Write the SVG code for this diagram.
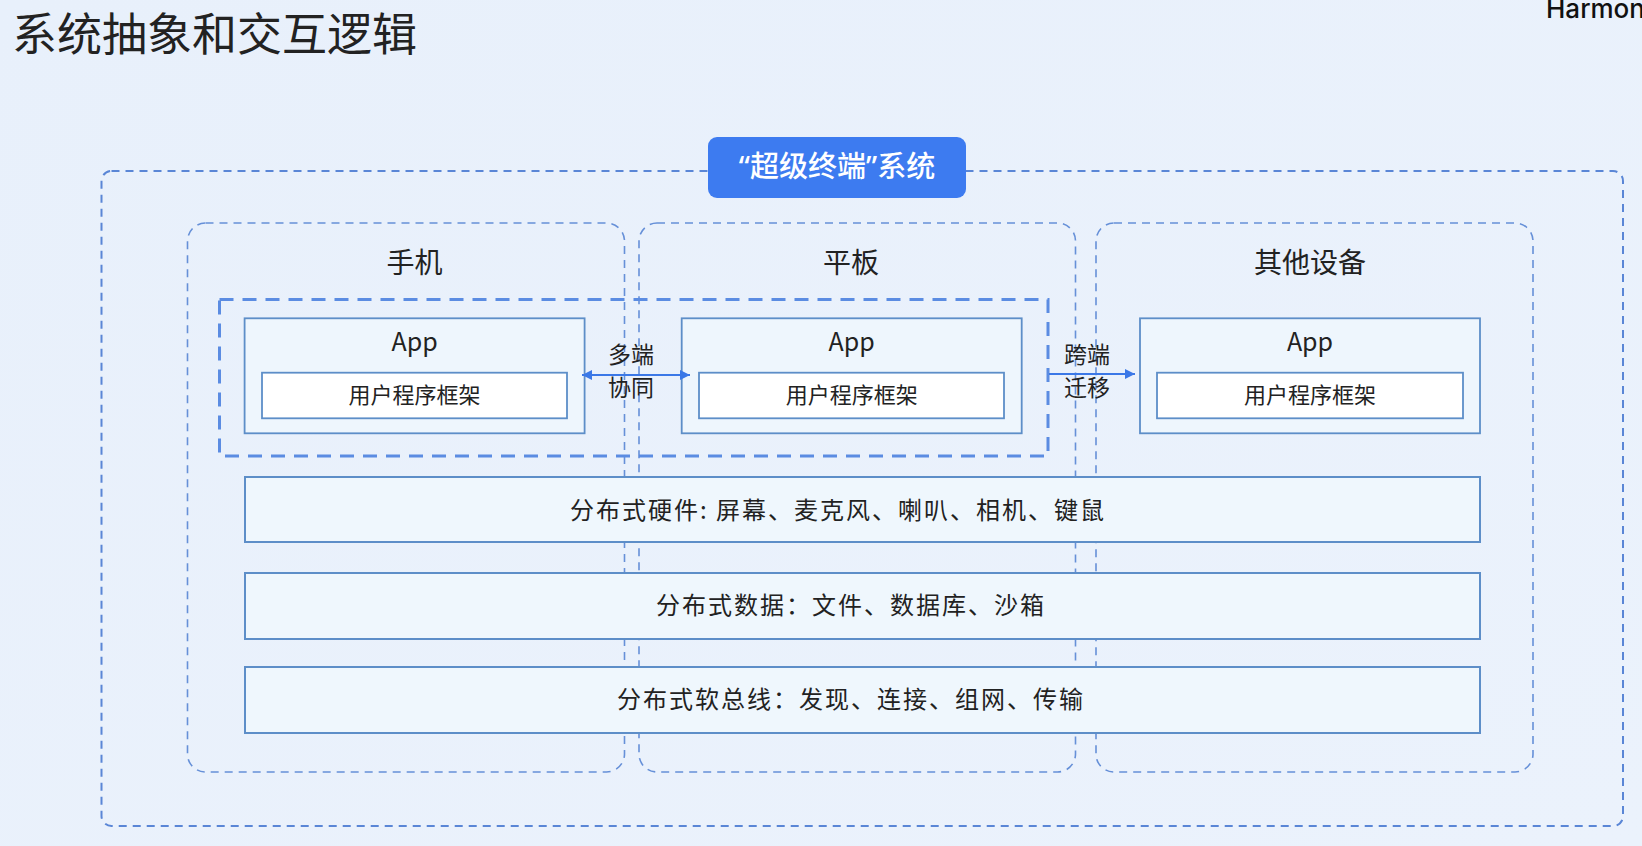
<svg xmlns="http://www.w3.org/2000/svg" width="1642" height="846" viewBox="0 0 1642 846">
<defs>
<linearGradient id="bg" x1="0" y1="0" x2="1" y2="1">
<stop offset="0" stop-color="#e8f0fb"/>
<stop offset="1" stop-color="#ebf2fc"/>
</linearGradient>
<marker id="ah" viewBox="0 0 10 10" refX="10" refY="5" markerWidth="10" markerHeight="10" markerUnits="userSpaceOnUse" orient="auto-start-reverse">
<path d="M0,0 L10,5 L0,10 z" fill="#3b78e7"/>
</marker>
<style>
.cjk{font-family:"Noto Sans CJK SC","Noto Sans",sans-serif;fill:#222}
.outer{fill:none;stroke:#5a86d6;stroke-width:2;stroke-dasharray:8 6}
.dev{fill:none;stroke:#6690d8;stroke-width:1.6;stroke-dasharray:8 6}
.grp{fill:none;stroke:#5b8ce2;stroke-width:3;stroke-dasharray:14 9}
.app{fill:#eef6fd;stroke:#5d8ec8;stroke-width:1.8}
.fw{fill:#ffffff;stroke:#5d8ec8;stroke-width:1.8}
.bar{fill:#eff7fd;stroke:#5d8ec8;stroke-width:2}
.conn{stroke:#3b78e7;stroke-width:2.2;fill:none}
.devlabel{font-size:28px;text-anchor:middle}
.applabel{font-size:25px;text-anchor:middle}
.fwlabel{font-size:22px;text-anchor:middle}
.barlabel{font-size:24px;text-anchor:middle;letter-spacing:2px}
.edge{font-size:23px;text-anchor:middle}
.q{font-family:"Noto Sans","Liberation Sans",sans-serif}
</style>
</defs>
<rect x="0" y="0" width="1642" height="846" fill="url(#bg)"/>

<g id="title">
<text class="cjk" x="12" y="51" font-size="45" fill="#1a1a1a">系统抽象和交互逻辑</text>
<text x="1546" y="18" font-family="Inter, 'Noto Sans', sans-serif" font-size="26" font-weight="500" fill="#111">Harmon</text>
</g>

<g id="outer-system">
<rect class="outer" x="101.5" y="171" width="1521.5" height="655" rx="10"/>
</g>

<g id="device-phone">
<rect class="dev" x="187.5" y="223" width="437" height="549" rx="18"/>
<text class="cjk devlabel" x="414.5" y="273">手机</text>
</g>
<g id="device-tablet">
<rect class="dev" x="639" y="223" width="436.5" height="549" rx="18"/>
<text class="cjk devlabel" x="851" y="273">平板</text>
</g>
<g id="device-other">
<rect class="dev" x="1096" y="223" width="437" height="549" rx="18"/>
<text class="cjk devlabel" x="1310" y="273">其他设备</text>
</g>

<g id="collab-group">
<rect class="grp" x="219.5" y="299.5" width="828.5" height="156.5"/>
</g>

<g id="app-phone">
<rect class="app" x="244.6" y="318.3" width="340" height="115"/>
<text class="cjk applabel" x="414.6" y="351">App</text>
<rect class="fw" x="262" y="372.7" width="305" height="45.6"/>
<text class="cjk fwlabel" x="414.6" y="403">用户程序框架</text>
</g>
<g id="app-tablet">
<rect class="app" x="681.7" y="318.3" width="340" height="115"/>
<text class="cjk applabel" x="851.7" y="351">App</text>
<rect class="fw" x="699" y="372.7" width="305" height="45.6"/>
<text class="cjk fwlabel" x="851.7" y="403">用户程序框架</text>
</g>
<g id="app-other">
<rect class="app" x="1140" y="318.3" width="340" height="115"/>
<text class="cjk applabel" x="1310" y="351">App</text>
<rect class="fw" x="1157" y="372.7" width="306" height="45.6"/>
<text class="cjk fwlabel" x="1310" y="403">用户程序框架</text>
</g>

<g id="bar-hardware">
<rect class="bar" x="245" y="477" width="1235" height="65"/>
<text class="cjk barlabel" x="838" y="518.5">分布式硬件: 屏幕、麦克风、喇叭、相机、键鼠</text>
</g>
<g id="bar-data">
<rect class="bar" x="245" y="573" width="1235" height="66"/>
<text class="cjk barlabel" x="851" y="614">分布式数据：文件、数据库、沙箱</text>
</g>
<g id="bar-softbus">
<rect class="bar" x="245" y="667" width="1235" height="66"/>
<text class="cjk barlabel" x="851" y="708">分布式软总线：发现、连接、组网、传输</text>
</g>

<g id="pill">
<rect x="708" y="137" width="258" height="61" rx="9" fill="#3d7bf0"/>
<text class="cjk" x="837" y="177" font-size="29" font-weight="500" text-anchor="middle" style="fill:#ffffff"><tspan class="q">“</tspan>超级终端<tspan class="q">”</tspan>系统</text>
</g>

<g id="connectors">
<line class="conn" x1="582" y1="375" x2="690" y2="375" marker-start="url(#ah)" marker-end="url(#ah)"/>
<line class="conn" x1="1049" y1="374" x2="1135" y2="374" marker-end="url(#ah)"/>
<text class="cjk edge" x="631" y="363">多端</text>
<text class="cjk edge" x="631" y="396">协同</text>
<text class="cjk edge" x="1087" y="363">跨端</text>
<text class="cjk edge" x="1087" y="396">迁移</text>
</g>
</svg>
